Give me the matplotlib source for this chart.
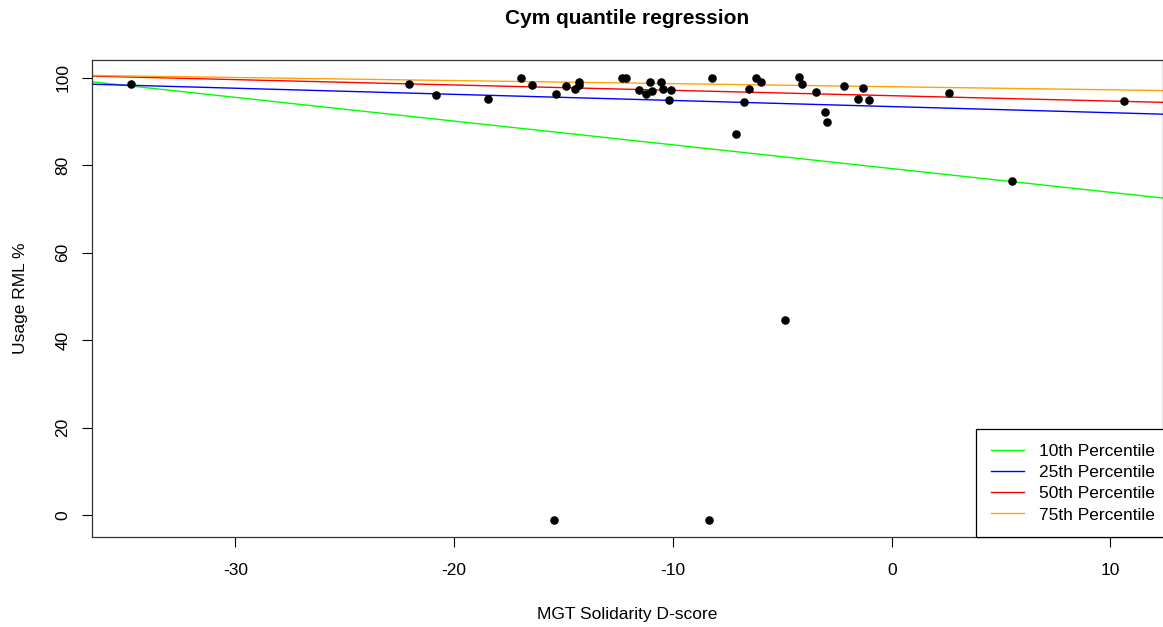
import matplotlib
matplotlib.use("Agg")
import matplotlib.pyplot as plt
import numpy as np

plt.rcParams['font.family'] = ['Liberation Sans', 'DejaVu Sans']
plt.rcParams['axes.unicode_minus'] = False

# Data points (MGT Solidarity D-score, Usage RML %)
x_score = [-34.75, -22.04, -20.82, -18.43, -16.93, -16.45, -15.35, -14.87, -14.49, -14.31,
           -14.31, -12.33, -12.13, -11.03, -11.55, -11.25, -10.94, -10.53, -10.43, -10.07,
           -10.20, -8.22, -6.19, -5.96, -6.54, -6.77, -4.24, -4.10, -3.44, -2.18,
           -1.31, -1.54, -1.05, 2.61, -3.05, -2.96, -7.13, -4.89, 5.49, 10.61,
           -15.44, -8.37]
y_usage = [98.6, 98.6, 96.0, 95.1, 100.0, 98.3, 96.3, 98.1, 97.4, 99.1,
           98.3, 100.0, 100.0, 99.1, 97.2, 96.2, 97.0, 99.0, 97.4, 97.2,
           94.9, 100.0, 100.0, 99.1, 97.4, 94.4, 100.1, 98.6, 96.8, 98.2,
           97.6, 95.1, 95.0, 96.5, 92.2, 89.9, 87.1, 44.6, 76.4, 94.7,
           -1.1, -1.1]

# Quantile regression lines (intercept, slope)
quantile_labels = ["10th Percentile", "25th Percentile", "50th Percentile", "75th Percentile"]
intercepts = [79.25, 93.43, 95.92, 97.97]
slopes = [-0.543, -0.140, -0.1226, -0.0705]
line_colors = ["#00FF00", "#0000FF", "#FF0000", "#FFA500"]

x_ticks = [-30, -20, -10, 0, 10]
y_ticks = [0, 20, 40, 60, 80, 100]

fig = plt.figure(figsize=(11.63, 6.27), dpi=100)
ax = fig.add_axes([92/1163, 1-537.3/627, 1-92/1163, (537.3-59.5)/627])

xlim = (-36.55, 12.40)
ylim = (-5.1, 104.2)
ax.set_xlim(*xlim)
ax.set_ylim(*ylim)

ax.scatter(x_score, y_usage, s=38, color='black', zorder=3, linewidths=0)

xs = np.array(xlim)
for b0, b1, c, lab in zip(intercepts, slopes, line_colors, quantile_labels):
    ax.plot(xs, b0 + b1 * xs, color=c, lw=1.0, label=lab, zorder=2)

FS = 12.5
ax.set_xticks(x_ticks)
ax.set_yticks(y_ticks)
ax.set_yticklabels([str(v) for v in y_ticks], rotation=90, va='center')
ax.tick_params(axis='both', direction='out', length=7.5, width=0.8, labelsize=FS,
               colors='black')
ax.tick_params(axis='x', pad=11)
ax.tick_params(axis='y', pad=8)
for s in ax.spines.values():
    s.set_color('#333333')
    s.set_linewidth(0.9)

ax.set_xlabel("MGT Solidarity D-score", fontsize=FS, labelpad=21)
ax.set_ylabel("Usage RML %", fontsize=FS, labelpad=20)
ax.set_title("Cym quantile regression", fontsize=15, fontweight='bold', pad=25.5)

leg = ax.legend(loc='lower right', bbox_to_anchor=(1.0065, 0.0), borderaxespad=0,
                fancybox=False, fontsize=FS,
                handlelength=1.93, handletextpad=0.86, labelspacing=0.34,
                borderpad=0.85, framealpha=1)
leg.get_frame().set_edgecolor('black')
leg.get_frame().set_linewidth(0.9)

fig.savefig("out.png", dpi=100)
